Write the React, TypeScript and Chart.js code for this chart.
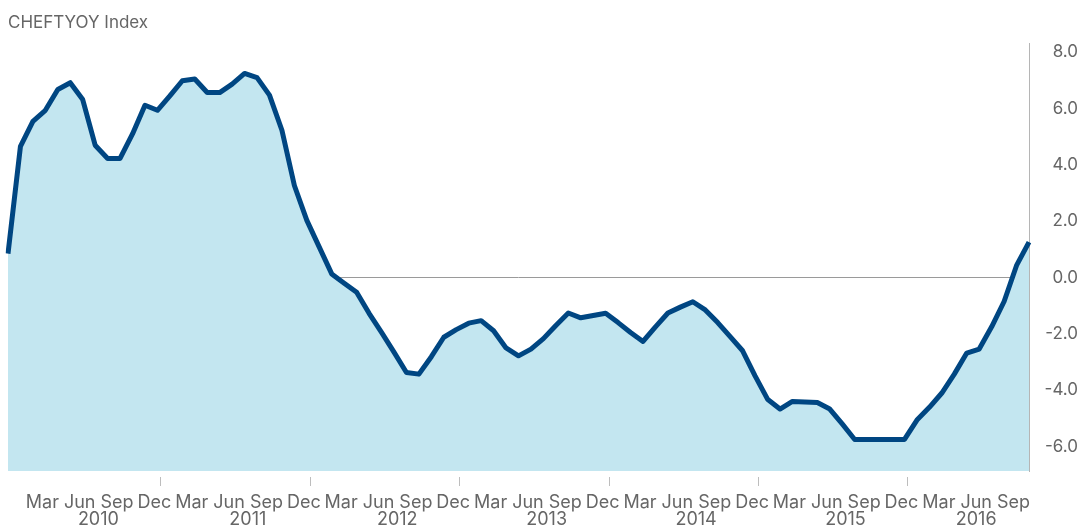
import React, { useEffect, useRef } from 'react';
import { Chart, registerables } from 'chart.js';

Chart.register(...registerables);

const TITLE = 'CHEFTYOY Index';
const MONTH_NAMES = ['Jan', 'Feb', 'Mar', 'Apr', 'May', 'Jun', 'Jul', 'Aug', 'Sep', 'Oct', 'Nov', 'Dec'];
const START_YEAR = 2009;
const START_MONTH = 11; // Dec 2009

// Monthly values, Dec 2009 .. Oct 2016
const values2009 = [0.85];
const values2010 = [4.66, 5.55, 5.94, 6.68, 6.92, 6.32, 4.7, 4.23, 4.23, 5.1, 6.12, 5.94];
const values2011 = [6.45, 6.99, 7.05, 6.57, 6.57, 6.87, 7.25, 7.1, 6.48, 5.23, 3.27, 2.03];
const values2012 = [1.08, 0.13, -0.2, -0.52, -1.27, -1.95, -2.65, -3.37, -3.43, -2.81, -2.12, -1.85];
const values2013 = [-1.62, -1.53, -1.89, -2.5, -2.78, -2.54, -2.17, -1.7, -1.26, -1.43, -1.35, -1.27];
const values2014 = [-1.6, -1.95, -2.27, -1.75, -1.26, -1.05, -0.86, -1.15, -1.6, -2.1, -2.6, -3.49];
const values2015 = [-4.32, -4.67, -4.4, -4.42, -4.44, -4.67, -5.2, -5.75, -5.75, -5.75, -5.75, -5.75];
const values2016 = [-5.06, -4.61, -4.1, -3.43, -2.68, -2.54, -1.75, -0.85, 0.43, 1.26];

const values = [
  ...values2009, ...values2010, ...values2011, ...values2012,
  ...values2013, ...values2014, ...values2015, ...values2016,
];

const categories = values.map((_, i) => {
  const m = (START_MONTH + i) % 12;
  const y = START_YEAR + Math.floor((START_MONTH + i) / 12);
  return { month: MONTH_NAMES[m], year: y };
});
const categoryLabels = categories.map((c) => `${c.month} ${c.year}`);

const TICK_MONTHS = ['Mar', 'Jun', 'Sep', 'Dec'];
const YEAR_TICK_MONTH = 'Dec';

const Y_MIN = -6.87;
const Y_MAX = 8.33;
const Y_TICKS = [-6, -4, -2, 0, 2, 4, 6, 8];

const FONT = 'Inter, "Noto Sans", sans-serif';
const TEXT_COLOR = '#666666';
const LINE_COLOR = '#004682';
const FILL_COLOR = '#c3e6f0';
const LABEL_OFFSET = -3;

const showLabel = (i: number) => i > 0 && TICK_MONTHS.includes(categories[i].month);

const axisExtras = {
  id: 'axisExtras',
  afterDraw(chart: any) {
    const ctx = chart.ctx;
    const xs = chart.scales.x;
    const area = chart.chartArea;
    ctx.save();
    ctx.strokeStyle = '#bdbdbd';
    ctx.lineWidth = 1;
    categories.forEach((c, i) => {
      if (i > 0 && c.month === YEAR_TICK_MONTH) {
        const x = Math.round(xs.getPixelForValue(i) + 3) + 0.5;
        ctx.beginPath();
        ctx.moveTo(x, area.bottom + 6);
        ctx.lineTo(x, area.bottom + 15);
        ctx.stroke();
      }
    });
    const groups: Record<number, number[]> = {};
    categories.forEach((c, i) => {
      if (showLabel(i)) {
        (groups[c.year] = groups[c.year] || []).push(i);
      }
    });
    ctx.fillStyle = TEXT_COLOR;
    ctx.font = `18px ${FONT}`;
    ctx.textAlign = 'center';
    ctx.textBaseline = 'alphabetic';
    Object.keys(groups).forEach((y) => {
      const idx = groups[+y];
      const x0 = xs.getPixelForValue(idx[0]);
      const x1 = xs.getPixelForValue(idx[idx.length - 1]);
      ctx.fillText(String(y), (x0 + x1) / 2 + LABEL_OFFSET, area.bottom + 54);
    });
    ctx.restore();
  },
};

export default function App() {
  const canvasRef = useRef<HTMLCanvasElement | null>(null);

  useEffect(() => {
    if (!canvasRef.current) return;
    const chart = new Chart(canvasRef.current, {
      type: 'line',
      data: {
        labels: categoryLabels,
        datasets: [
          {
            data: values,
            borderColor: LINE_COLOR,
            backgroundColor: FILL_COLOR,
            borderWidth: 5,
            borderJoinStyle: 'round',
            pointRadius: 0,
            tension: 0,
            fill: 'start',
          },
        ],
      },
      options: {
        animation: false,
        responsive: false,
        layout: { padding: { top: 43, left: 8, right: 0, bottom: 0 } },
        plugins: { legend: { display: false }, tooltip: { enabled: false } },
        scales: {
          x: {
            type: 'category',
            grid: { display: false },
            border: { display: false },
            afterFit: (s: any) => {
              s.height = 56;
              s.paddingLeft = 0;
              s.paddingRight = 0;
            },
            ticks: {
              autoSkip: false,
              maxRotation: 0,
              minRotation: 0,
              padding: 13,
              labelOffset: LABEL_OFFSET,
              color: TEXT_COLOR,
              font: { family: FONT, size: 18 },
              callback: (_v: any, i: number) => (showLabel(i) ? categories[i].month : ''),
            },
          },
          y: {
            position: 'right',
            min: Y_MIN,
            max: Y_MAX,
            afterFit: (s: any) => { s.width = 49; },
            afterBuildTicks: (s: any) => {
              s.ticks = Y_TICKS.map((v) => ({ value: v }));
            },
            grid: {
              drawTicks: false,
              color: (c: any) => (c.tick && c.tick.value === 0 ? '#9a9a9a' : 'rgba(0,0,0,0)'),
              lineWidth: 1,
            },
            border: { display: true, color: '#b5b5b5' },
            ticks: {
              padding: 10,
              crossAlign: 'far',
              color: TEXT_COLOR,
              font: { family: FONT, size: 17 },
              callback: (v: any) => Number(v).toFixed(1),
            },
          },
        },
      },
      plugins: [axisExtras],
    });
    return () => chart.destroy();
  }, []);

  return (
    <div style={{ position: 'fixed', left: 0, top: 0, width: 1078, height: 527, background: '#fff' }}>
      <div
        style={{
          position: 'absolute',
          left: 8,
          top: 12,
          fontFamily: FONT,
          fontSize: 17,
          color: TEXT_COLOR,
          whiteSpace: 'nowrap',
        }}
      >
        {TITLE}
      </div>
      <canvas ref={canvasRef} width={1078} height={527} style={{ display: 'block' }} />
    </div>
  );
}
